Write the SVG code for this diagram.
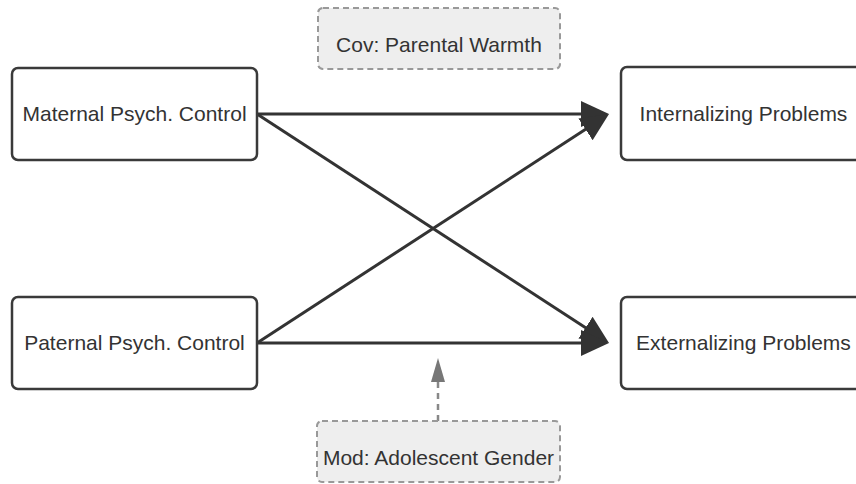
<svg xmlns="http://www.w3.org/2000/svg" width="856" height="484" viewBox="0 0 856 484">
  <defs>
    <marker id="arr" markerUnits="userSpaceOnUse" markerWidth="30" markerHeight="28" refX="18" refY="13" orient="auto">
      <path d="M0,0 L28,13 L0,26 z" fill="#333"/>
    </marker>
    <marker id="arrg" markerUnits="userSpaceOnUse" markerWidth="26" markerHeight="16" refX="14" refY="7" orient="auto">
      <path d="M0,0 L24,7 L0,14 z" fill="#777"/>
    </marker>
  </defs>
  <style>
    .node rect { fill: #fff; stroke: #3a3a3a; stroke-width: 2.5; }
    .aux rect { fill: #eeeeee; stroke: #999; stroke-width: 2; stroke-dasharray: 6 4; }
    text { font-family: "Liberation Sans", Arial, sans-serif; font-size: 21px; fill: #333; text-anchor: middle; }
    .edge { stroke: #333; stroke-width: 3; fill: none; marker-end: url(#arr); }
    .mod { stroke: #888; stroke-width: 2.5; stroke-dasharray: 6 5; fill: none; marker-end: url(#arrg); }
  </style>
  <rect width="856" height="484" fill="#fff"/>
  <g id="connectors">
    <line class="edge" x1="257" y1="114" x2="599" y2="114"/>
    <line class="edge" x1="257" y1="114" x2="600.6" y2="337.5"/>
    <line class="edge" x1="257" y1="343" x2="600.6" y2="119.5"/>
    <line class="edge" x1="257" y1="343" x2="599" y2="343"/>
    <line class="mod" x1="438" y1="421" x2="438" y2="368"/>
  </g>
  <g id="maternal" class="node">
    <rect x="12" y="68" width="245" height="92" rx="6"/>
    <text x="134.5" y="121">Maternal Psych. Control</text>
  </g>
  <g id="paternal" class="node">
    <rect x="12" y="297" width="245" height="92" rx="6"/>
    <text x="134.5" y="350">Paternal Psych. Control</text>
  </g>
  <g id="internalizing" class="node">
    <rect x="621" y="67" width="245" height="93" rx="6"/>
    <text x="743.5" y="121">Internalizing Problems</text>
  </g>
  <g id="externalizing" class="node">
    <rect x="621" y="297" width="245" height="92" rx="6"/>
    <text x="743.5" y="350">Externalizing Problems</text>
  </g>
  <g id="cov" class="aux">
    <rect x="318" y="8" width="242" height="61" rx="5"/>
    <text x="439" y="52">Cov: Parental Warmth</text>
  </g>
  <g id="mod" class="aux">
    <rect x="317" y="421" width="243" height="61" rx="5"/>
    <text x="438.5" y="465">Mod: Adolescent Gender</text>
  </g>
</svg>
